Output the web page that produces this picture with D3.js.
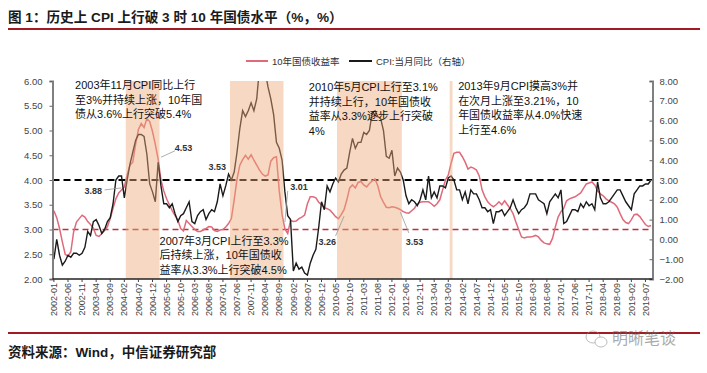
<!DOCTYPE html>
<html><head><meta charset="utf-8">
<script src="https://cdn.jsdelivr.net/npm/d3@7"></script>
<style>
body{margin:0;background:#fff;}
svg{display:block;font-family:"Liberation Sans","Noto Sans CJK SC",sans-serif;}
</style></head><body>
<svg id="c" width="707" height="373"></svg>
<script>
// ---------- DATA ----------
const months = d3.timeMonth.range(new Date(2002,0,1), new Date(2019,9,1)).map(d3.timeFormat("%Y-%m"));

const bondYield = [
 3.38,3.24,3.02,2.75,2.50,2.46,2.55,2.95,3.15,3.22,3.29,3.25,
 3.16,3.10,3.03,2.88,2.86,2.92,2.98,3.06,3.22,3.43,3.62,3.74,
 3.80,3.86,4.10,4.30,4.36,4.72,5.02,5.14,5.06,5.24,5.18,4.98,
 4.72,4.42,4.00,3.78,3.62,3.50,3.38,3.28,3.19,3.02,2.97,3.18,
 3.12,3.06,3.00,2.96,2.96,2.99,3.02,3.06,3.05,2.98,2.96,2.99,
 3.00,3.05,3.12,3.22,3.60,4.02,4.30,4.41,4.50,4.42,4.51,4.40,
 4.30,4.20,4.12,4.08,4.10,4.38,4.45,4.47,3.78,3.30,3.01,2.92,
 3.18,3.16,3.17,3.22,3.25,3.29,3.52,3.66,3.66,3.64,3.55,3.50,
 3.44,3.42,3.39,3.33,3.26,3.22,3.30,3.40,3.60,3.84,3.90,3.84,
 3.95,3.97,3.90,3.86,3.93,3.98,4.02,3.88,3.66,3.55,3.45,3.44,
 3.46,3.45,3.43,3.40,3.36,3.34,3.33,3.38,3.43,3.52,3.55,3.56,
 3.56,3.56,3.52,3.47,3.52,3.60,3.80,4.00,4.10,4.34,4.54,4.56,
 4.56,4.47,4.36,4.22,4.26,4.24,4.20,4.08,3.80,3.66,3.56,3.50,
 3.46,3.50,3.56,3.50,3.58,3.50,3.42,3.32,3.15,3.00,2.85,2.83,
 2.85,2.85,2.86,2.88,2.85,2.78,2.73,2.71,2.70,2.82,3.05,3.25,
 3.36,3.43,3.58,3.62,3.64,3.66,3.70,3.74,3.83,3.92,3.94,3.96,
 3.90,3.78,3.72,3.68,3.62,3.58,3.55,3.52,3.45,3.32,3.20,3.14,
 3.12,3.20,3.30,3.31,3.26,3.18,3.10,3.06,3.08
];

const cpi = [
 -1.0,0.0,-0.8,-1.3,-1.1,-0.8,-0.9,-0.7,-0.7,-0.8,-0.7,-0.4,
 0.4,0.2,0.9,1.0,0.7,0.3,0.5,0.9,1.1,1.8,3.0,3.2,
 3.2,2.1,3.0,3.8,4.4,5.0,5.3,5.3,5.2,4.3,2.8,2.4,
 1.9,3.9,2.7,1.8,1.8,1.6,1.8,1.3,0.9,1.2,1.3,1.6,
 1.9,0.9,0.8,1.2,1.4,1.5,1.0,1.3,1.5,1.4,1.9,2.8,
 2.2,2.7,3.3,3.0,3.4,4.4,5.6,6.5,6.2,6.5,6.9,6.5,
 7.1,8.7,8.3,8.5,7.7,7.1,6.3,4.9,4.6,4.0,2.4,1.2,
 1.0,-1.6,-1.2,-1.5,-1.4,-1.7,-1.8,-1.2,-0.8,-0.5,0.6,1.9,
 1.5,2.7,2.4,2.8,3.1,2.9,3.3,3.5,3.6,4.4,5.1,4.6,
 4.9,4.9,5.4,5.3,5.5,6.4,6.5,6.2,6.1,5.5,4.2,4.1,
 4.5,3.2,3.6,3.4,3.0,2.2,1.8,2.0,1.9,1.7,2.0,2.5,
 2.0,3.2,2.1,2.4,2.1,2.7,2.7,2.6,3.1,3.2,3.0,2.5,
 2.5,2.0,2.4,1.8,2.5,2.3,2.3,2.0,1.6,1.6,1.4,1.5,
 0.8,1.4,1.4,1.5,1.2,1.4,1.6,2.0,1.6,1.3,1.5,1.6,
 1.8,2.3,2.3,2.3,2.0,1.9,1.8,1.3,1.9,2.1,2.3,2.1,
 2.5,0.8,0.9,1.2,1.5,1.5,1.4,1.8,1.6,1.9,1.7,1.8,
 1.5,2.9,2.1,1.8,1.8,1.9,2.1,2.3,2.5,2.5,2.2,1.9,
 1.7,1.5,2.3,2.5,2.7,2.7,2.8,2.8,3.0
];

const xTickLabels = months.filter((m,i)=> i%5===0);
const leftTicks = [2.0,2.5,3.0,3.5,4.0,4.5,5.0,5.5,6.0];
const rightTicks = [-2,-1,0,1,2,3,4,5,6,7,8];

const shades = [["2004-03","2005-02"],["2007-04","2008-10"],["2010-06","2012-04"],["2013-10","2013-10"]];
const refBlack = 4.0, refRed = 3.0;

const seriesNames = ["10年国债收益率","CPI:当月同比（右轴）"];
const title = "图 1：历史上 CPI 上行破 3 时 10 年国债水平（%，%）";
const source = "资料来源：Wind，中信证券研究部";

const notes = [
 {m:"2002-09", v:5.84, lines:["2003年11月CPI同比上行","至3%并持续上涨，10年国","债从3.6%上行突破5.4%"]},
 {m:"2005-03", v:2.69, lines:["2007年3月CPI上行至3.3%","后持续上涨，10年国债收","益率从3.3%上行突破4.5%"]},
 {m:"2009-08", v:5.80, lines:["2010年5月CPI上行至3.1%","并持续上行，10年国债收","益率从3.3%逐步上行突破","4%"]},
 {m:"2014-01", v:5.82, lines:["2013年9月CPI摸高3%并","在次月上涨至3.21%，10","年国债收益率从4.0%快速","上行至4.6%"]}
];
const callouts = [
 {t:"3.88", m:"2003-03", v:3.78, from:["2003-07",3.80], to:["2004-01",3.84]},
 {t:"4.53", m:"2005-11", v:4.65, from:["2005-08",4.59], to:["2005-03",4.46]},
 {t:"3.53", m:"2006-11", v:4.26},
 {t:"3.01", m:"2009-04", v:3.86, from:["2008-12",3.78], to:["2008-11",3.15]},
 {t:"3.26", m:"2010-02", v:2.75, from:["2010-05",2.87], to:["2010-08",3.27]},
 {t:"3.53", m:"2012-09", v:2.75, from:["2012-07",2.93], to:["2012-04",3.35]}
];

// ---------- CHART ----------
const svg = d3.select("#c");
const L=52.5, R=652.5, T=81, B=279;
const x = d3.scaleBand().domain(months).range([L,R]);
const bw = x.bandwidth();
const xc = m => x(m)+bw/2;
const yL = d3.scaleLinear().domain([2,6]).range([B,T]);
const yR = d3.scaleLinear().domain([-2,8]).range([B,T]);
const red = "#a31b22";

// title
svg.append("text").attr("x",8).attr("y",22).attr("font-size",13.6).attr("font-weight",600)
  .attr("fill","#1a1a1a").text(title);
svg.append("line").attr("x1",8).attr("x2",700).attr("y1",29).attr("y2",29).attr("stroke",red).attr("stroke-width",2);

// footer
svg.append("line").attr("x1",8).attr("x2",700).attr("y1",333).attr("y2",333).attr("stroke",red).attr("stroke-width",2);
svg.append("text").attr("x",8).attr("y",357).attr("font-size",13.5).attr("font-weight",600).attr("fill","#1a1a1a").text(source);
const wm = svg.append("g").attr("opacity",0.55);
wm.append("ellipse").attr("cx",593).attr("cy",337).attr("rx",7).attr("ry",6).attr("fill","none").attr("stroke","#888");
wm.append("ellipse").attr("cx",601).attr("cy",342).attr("rx",6).attr("ry",5).attr("fill","#fff").attr("stroke","#888");
wm.append("text").attr("x",612).attr("y",344).attr("font-size",16).attr("fill","#666").text("明晰笔谈");

svg.append("clipPath").attr("id","pc").append("rect").attr("x",L).attr("y",T).attr("width",R-L).attr("height",B-T);
const plot = svg.append("g").attr("clip-path","url(#pc)");

// reference lines
plot.append("line").attr("x1",L).attr("x2",R).attr("y1",yL(refRed)).attr("y2",yL(refRed))
  .attr("stroke","#b8323c").attr("stroke-width",1.5).attr("stroke-dasharray","6,4");
plot.append("line").attr("x1",L).attr("x2",R).attr("y1",yL(refBlack)).attr("y2",yL(refBlack))
  .attr("stroke","#000").attr("stroke-width",2.2).attr("stroke-dasharray","7,4");

// lines
const lineY = d3.line().x((d,i)=>xc(months[i])).y(d=>yL(d));
const lineC = d3.line().x((d,i)=>xc(months[i])).y(d=>yR(d));
plot.append("path").attr("d",lineY(bondYield)).attr("fill","none").attr("stroke","#e06a7a").attr("stroke-width",1.5);
plot.append("path").attr("d",lineC(cpi)).attr("fill","none").attr("stroke","#1a1a1a").attr("stroke-width",1.4);

// shading (overlay)
plot.selectAll("rect.sh").data(shades).join("rect").attr("class","sh")
  .attr("x",d=>x(d[0])).attr("width",d=>x(d[1])+bw-x(d[0]))
  .attr("y",T).attr("height",B-T).attr("fill","#eda878").attr("opacity",0.45);

// axes
const gl = svg.append("g").attr("transform",`translate(${L},0)`)
  .call(d3.axisLeft(yL).tickValues(leftTicks).tickFormat(d3.format(".2f")).tickSize(3).tickPadding(7));
gl.select(".domain").attr("stroke","#808080").attr("stroke-width",2);
gl.selectAll(".tick line").attr("stroke","#666");
gl.selectAll("text").attr("font-size",9.5).attr("fill","#444").attr("font-family","Liberation Sans, sans-serif");

const gr = svg.append("g").attr("transform",`translate(${R},0)`)
  .call(d3.axisRight(yR).tickValues(rightTicks).tickFormat(d3.format(".2f")).tickSize(-3).tickPadding(7));
gr.select(".domain").attr("stroke","#808080").attr("stroke-width",2);
gr.selectAll(".tick line").attr("stroke","#666");
gr.selectAll("text").attr("font-size",9.5).attr("fill","#444").attr("font-family","Liberation Sans, sans-serif");

const gb = svg.append("g").attr("transform",`translate(0,${B})`);
gb.append("line").attr("x1",L).attr("x2",R).attr("stroke","#222").attr("stroke-width",1.5);
gb.selectAll("line.t").data(xTickLabels).join("line").attr("class","t")
  .attr("x1",d=>xc(d)).attr("x2",d=>xc(d)).attr("y1",0).attr("y2",3).attr("stroke","#444");
gb.selectAll("text").data(xTickLabels).join("text")
  .attr("transform",d=>`translate(${xc(d)},4) rotate(-90)`)
  .attr("text-anchor","end").attr("dy","0.35em").attr("font-size",9).attr("fill","#444").text(d=>d);

// legend
const lg = svg.append("g").attr("font-size",9.5).attr("fill","#333");
lg.append("line").attr("x1",246).attr("x2",268).attr("y1",61).attr("y2",61).attr("stroke","#e06a7a").attr("stroke-width",2);
lg.append("text").attr("x",272).attr("y",64.5).text(seriesNames[0]);
lg.append("line").attr("x1",349).attr("x2",372).attr("y1",61).attr("y2",61).attr("stroke","#1a1a1a").attr("stroke-width",2);
lg.append("text").attr("x",376).attr("y",64.5).text(seriesNames[1]);

// annotations
notes.forEach(n=>{
  const t = svg.append("text").attr("x",x(n.m)).attr("y",yL(n.v)).attr("font-size",11).attr("fill","#111");
  n.lines.forEach((s,i)=> t.append("tspan").attr("x",x(n.m)).attr("dy", i===0?0:14.6).text(s));
});
callouts.forEach(c=>{
  if(c.from) svg.append("line").attr("x1",xc(c.from[0])).attr("y1",yL(c.from[1]))
     .attr("x2",xc(c.to[0])).attr("y2",yL(c.to[1])).attr("stroke","#999").attr("stroke-width",0.8);
  svg.append("text").attr("x",xc(c.m)).attr("y",yL(c.v)).attr("dy","0.35em").attr("text-anchor","middle")
     .attr("font-size",9).attr("font-weight","bold").attr("fill","#333").text(c.t);
});
</script>
</body></html>
